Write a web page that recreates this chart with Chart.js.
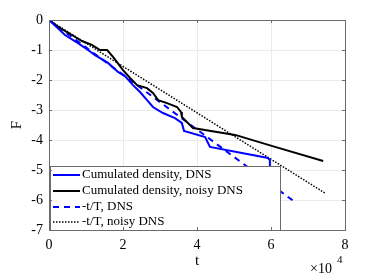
<!DOCTYPE html>
<html>
<head>
<meta charset="utf-8">
<script src="https://cdn.jsdelivr.net/npm/chart.js@4"></script>
<style>
  html, body { margin: 0; padding: 0; background: #fff; }
  #wrap { width: 382px; height: 276px; }
</style>
</head>
<body>
<div id="wrap"><canvas id="chart" width="382" height="276"></canvas></div>
<script>
// values (t in seconds, F dimensionless)
const tDns = [0, 4320, 7840, 10540, 12430, 15950, 18650, 20540, 22700, 24600, 26500, 28100, 30800, 34050, 35900, 36500, 42200, 43500, 59200, 59700, 59700];
const fDns = [0, -0.50, -0.77, -1.00, -1.17, -1.43, -1.73, -1.87, -2.17, -2.40, -2.67, -2.90, -3.10, -3.27, -3.43, -3.70, -3.90, -4.23, -4.60, -4.67, -5.00];

const tNoisy = [0, 2430, 6200, 8900, 11600, 13800, 15700, 17300, 20000, 21900, 23800, 26500, 28100, 29500, 31900, 34600, 35700, 35900, 38900, 50300, 61100, 74100];
const fNoisy = [0, -0.23, -0.50, -0.70, -0.83, -1.00, -1.00, -1.23, -1.67, -1.93, -2.17, -2.27, -2.43, -2.67, -2.77, -2.90, -3.07, -3.23, -3.60, -3.83, -4.23, -4.70];

// -t/T straight lines, end points
const tFitDns = [0, 66500];
const fFitDns = [0, -6.07];
const tFitNoisy = [0, 74600];
const fFitNoisy = [0, -5.77];

const xTicks = [0, 2, 4, 6, 8];
const yTicks = [0, -1, -2, -3, -4, -5, -6, -7];

const legendLabels = ['Cumulated density, DNS', 'Cumulated density, noisy DNS', '-t/T, DNS', '-t/T, noisy DNS'];

const pts = (xs, ys) => xs.map((x, i) => ({ x: x, y: ys[i] }));
const FONT = '"Liberation Serif", "Times New Roman", serif';

const frame = {
  id: 'frame',
  afterDatasetsDraw(chart) {
    const ctx = chart.ctx;
    const a = chart.chartArea;
    const ds = chart.data.datasets;
    // legend box inside the axes, covering the lines
    const lx = a.left + 1, ly = 166, lw = 230, lh = a.bottom - ly;
    ctx.save();
    ctx.fillStyle = '#fff';
    ctx.fillRect(lx, ly, lw, lh);
    ctx.strokeStyle = '#6b6b6b';
    ctx.lineWidth = 1;
    ctx.strokeRect(lx + 0.5, ly + 0.5, lw, lh);
    ctx.font = '13px ' + FONT;
    ctx.textBaseline = 'middle';
    ctx.fillStyle = '#000';
    const rows = [175, 191, 207, 222];
    legendLabels.forEach((lab, i) => {
      const d = ds[i];
      ctx.beginPath();
      ctx.strokeStyle = d.borderColor;
      ctx.lineWidth = d.borderWidth;
      ctx.setLineDash(d.borderDash || []);
      ctx.moveTo(53, rows[i]);
      ctx.lineTo(80, rows[i]);
      ctx.stroke();
      ctx.setLineDash([]);
      ctx.fillText(lab, 82, rows[i]);
    });
    ctx.restore();
  },
  afterDraw(chart) {
    const ctx = chart.ctx;
    const a = chart.chartArea;
    const xs = chart.scales.x, ys = chart.scales.y;
    ctx.save();
    ctx.strokeStyle = '#6b6b6b';
    ctx.lineWidth = 1;
    ctx.strokeRect(a.left + 0.5, a.top + 0.5, a.right - a.left, a.bottom - a.top);
    ctx.beginPath();
    xTicks.forEach(v => {
      const px = Math.round(xs.getPixelForValue(v * 1e4)) + 0.5;
      ctx.moveTo(px, a.bottom); ctx.lineTo(px, a.bottom - 3);
      ctx.moveTo(px, a.top); ctx.lineTo(px, a.top + 3);
    });
    yTicks.forEach(v => {
      const py = Math.round(ys.getPixelForValue(v)) + 0.5;
      ctx.moveTo(a.left, py); ctx.lineTo(a.left + 3, py);
      ctx.moveTo(a.right, py); ctx.lineTo(a.right - 3, py);
    });
    ctx.stroke();
    // x multiplier
    ctx.fillStyle = '#000';
    ctx.textBaseline = 'alphabetic';
    ctx.font = '14px ' + FONT;
    ctx.fillText('\u00d710', 310, 273);
    ctx.font = '11px ' + FONT;
    ctx.fillText('4', 337, 263);
    ctx.restore();
  }
};

new Chart(document.getElementById('chart'), {
  type: 'scatter',
  data: {
    datasets: [
      { data: pts(tDns, fDns), borderColor: '#0000ff', borderWidth: 2, showLine: true, pointRadius: 0, tension: 0 },
      { data: pts(tNoisy, fNoisy), borderColor: '#000000', borderWidth: 2, showLine: true, pointRadius: 0, tension: 0 },
      { data: pts(tFitDns, fFitDns), borderColor: '#0000ff', borderWidth: 2, borderDash: [6, 5], showLine: true, pointRadius: 0 },
      { data: pts(tFitNoisy, fFitNoisy), borderColor: '#000000', borderWidth: 1.5, borderDash: [1.5, 1.5], showLine: true, pointRadius: 0 }
    ]
  },
  options: {
    responsive: false,
    animation: false,
    layout: { padding: { top: 20, right: 37, left: 0, bottom: 0 } },
    plugins: { legend: { display: false }, tooltip: { enabled: false } },
    scales: {
      x: {
        type: 'linear', min: 0, max: 80000,
        afterFit: s => { s.height = 46; },
        afterBuildTicks: s => { s.ticks = xTicks.map(v => ({ value: v * 1e4 })); },
        ticks: { callback: v => String(v / 1e4), color: '#000', padding: 7, maxRotation: 0, font: { family: FONT, size: 14 } },
        grid: { color: '#ebebeb', drawTicks: false },
        border: { display: false },
        title: { display: true, text: 't', color: '#000', font: { family: FONT, size: 15 }, padding: { top: 0, bottom: 6 } }
      },
      y: {
        type: 'linear', min: -7, max: 0,
        afterFit: s => { s.width = 49; },
        afterBuildTicks: s => { s.ticks = yTicks.map(v => ({ value: v })); },
        ticks: { callback: v => String(v), color: '#000', padding: 6, font: { family: FONT, size: 14 } },
        grid: { color: '#ebebeb', drawTicks: false },
        border: { display: false },
        title: { display: true, text: 'F', color: '#000', font: { family: FONT, size: 15 }, padding: { top: 8, bottom: 0 } }
      }
    }
  },
  plugins: [frame]
});
</script>
</body>
</html>
